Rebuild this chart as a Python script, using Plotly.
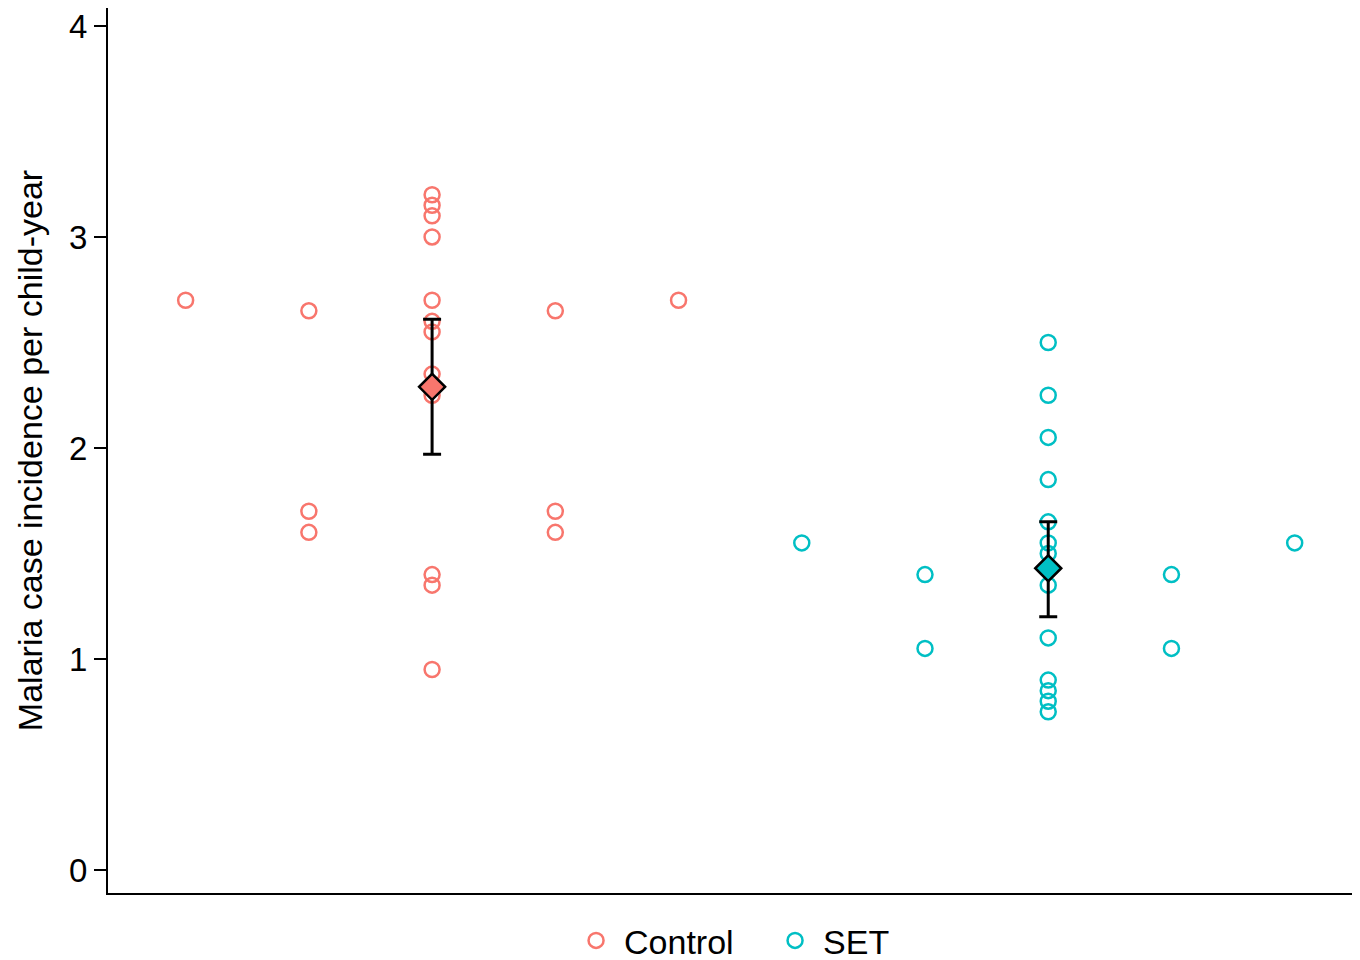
import plotly.graph_objects as go

# ---- data ----
groups = ["Control", "SET"]
colors = ["#F8766D", "#00BFC4"]

# per-point values and their dot-plot column (-2..2) within each group
control_values = [3.2, 3.15, 3.1, 3.0, 2.7, 2.6, 2.55, 2.35, 2.25, 1.4, 1.35, 0.95,
                  2.7,
                  2.65, 1.7, 1.6,
                  2.65, 1.7, 1.6,
                  2.7]
control_cols = [0] * 12 + [-2] + [-1] * 3 + [1] * 3 + [2]

set_values = [2.5, 2.25, 2.05, 1.85, 1.65, 1.55, 1.5, 1.35, 1.1, 0.9, 0.85, 0.8, 0.75,
              1.55,
              1.4, 1.05,
              1.4, 1.05,
              1.55]
set_cols = [0] * 13 + [-2] + [-1] * 2 + [1] * 2 + [2]

means = [2.29, 1.43]
ci_low = [1.97, 1.20]
ci_high = [2.61, 1.65]

col_step = 0.2
yticks = [0, 1, 2, 3, 4]

fig = go.Figure()
all_vals = [control_values, set_values]
all_cols = [control_cols, set_cols]
for gi, (g, c) in enumerate(zip(groups, colors)):
    xs = [gi + 1 + col_step * k for k in all_cols[gi]]
    fig.add_trace(go.Scatter(
        x=xs, y=all_vals[gi], mode="markers", name=g,
        marker=dict(symbol="circle-open", size=15, color=c, line=dict(width=2.5, color=c)),
        showlegend=True,
    ))

for gi, (g, c) in enumerate(zip(groups, colors)):
    fig.add_trace(go.Scatter(
        x=[gi + 1], y=[means[gi]], mode="markers", showlegend=False,
        marker=dict(symbol="diamond", size=20, color=c, line=dict(width=2.5, color="black")),
        error_y=dict(type="data", symmetric=False,
                     array=[ci_high[gi] - means[gi]],
                     arrayminus=[means[gi] - ci_low[gi]],
                     color="black", thickness=3, width=9),
    ))

fig.update_layout(
    width=1352, height=952,
    margin=dict(l=100, r=0, t=0, b=67, autoexpand=False),
    plot_bgcolor="white", paper_bgcolor="white",
    font=dict(family="Liberation Sans, Arial, sans-serif", color="black", size=34),
    xaxis=dict(range=[0.474, 2.506], showticklabels=False, ticks="", showgrid=False,
               zeroline=False, showline=True, linecolor="black", linewidth=2, automargin=False),
    yaxis=dict(range=[-0.109, 4.085], tickvals=yticks, ticks="outside", ticklen=12,
               tickwidth=1.5, tickcolor="black", showgrid=False, zeroline=False,
               showline=True, linecolor="black", linewidth=2, automargin=False,
               tickfont=dict(size=33), ticklabeloverflow="allow",
               title=dict(text="Malaria case incidence per child-year", font=dict(size=34), standoff=16)),
    legend=dict(orientation="h", x=0.5264, xanchor="center", y=-0.054, yanchor="middle",
                font=dict(size=34), itemwidth=46, entrywidth=138),
)

fig.write_html("out.html")
